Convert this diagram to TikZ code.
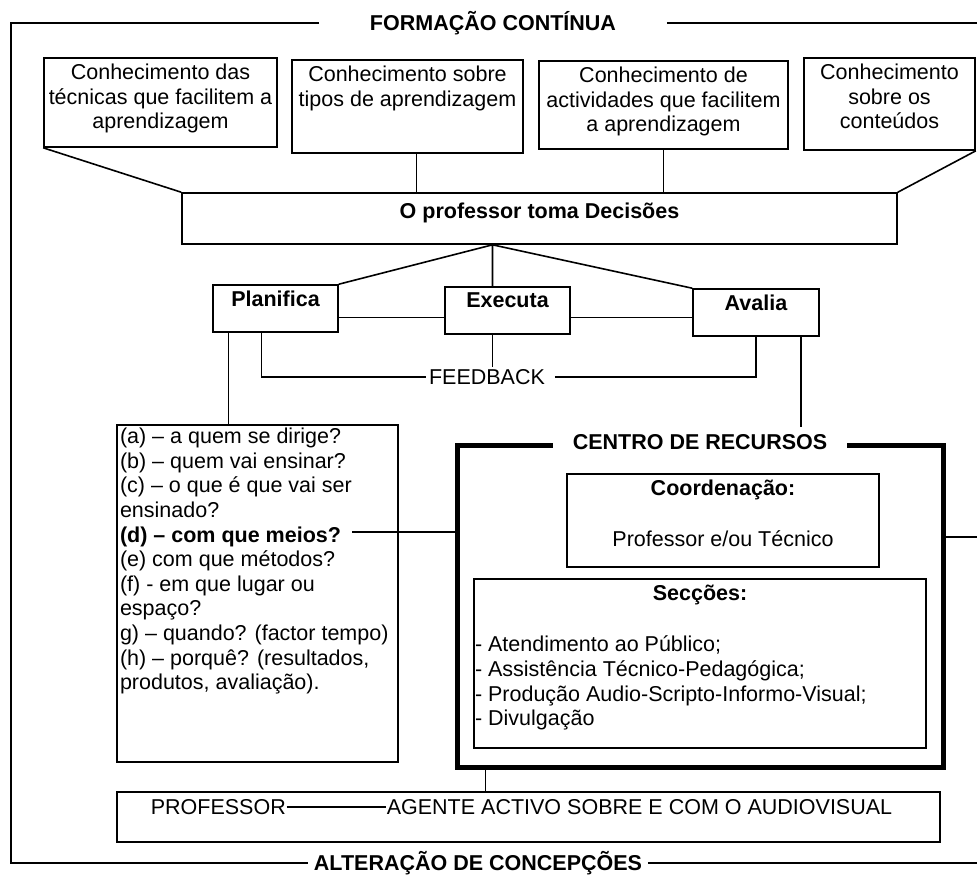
\documentclass[tikz,border=0pt]{standalone}
\usepackage{fontspec}
\setmainfont{Liberation Sans}
\usetikzlibrary{fit}
\newcommand\figsize{\fontsize{10.75}{12.3}\selectfont}
\tikzset{
  box/.style={draw,inner sep=0pt},
  boxtext/.style={anchor=north,align=center,inner sep=3pt},
  listtext/.style={anchor=north west,align=left,inner sep=1pt},
  hd/.style={font=\figsize\bfseries},
}
\begin{document}
\begin{tikzpicture}[x=0.5pt,y=-0.5pt,line width=0.8pt,every node/.style={font=\figsize}]
  \useasboundingbox (0,0) rectangle (977,875);
  % frame
  \node[hd,inner xsep=25pt] (form) at (493,23) {FORMAÇÃO CONTÍNUA};
  \node[hd,inner xsep=2.5pt] (alt) at (478,863) {ALTERAÇÃO DE CONCEPÇÕES};
  \coordinate (ftl) at (11,23);
  \coordinate (fbl) at (11,863);
  \coordinate (ftr) at (977,23);
  \coordinate (fbr) at (977,863);
  \draw (form.west) -- (ftl) -- (fbl) -- (alt.west);
  \draw (form.east) -- (ftr) (alt.east) -- (fbr);
  % knowledge
  \node[box,fit={(44,58) (277,147)},label={[boxtext]north:{Conhecimento das\\técnicas que facilitem a\\aprendizagem}}] (k1) {};
  \node[box,fit={(292,60) (523,153)},label={[boxtext]north:{Conhecimento sobre\\tipos de aprendizagem}}] (k2) {};
  \node[box,fit={(539,61) (788,149)},label={[boxtext]north:{Conhecimento de\\actividades que facilitem\\a aprendizagem}}] (k3) {};
  \node[box,fit={(804,58) (975,150)},label={[boxtext]north:{Conhecimento\\sobre os\\conteúdos}}] (k4) {};
  \node[box,fit={(182,193) (897,244)},label={[boxtext,hd,yshift=-2pt]north:{O professor toma Decisões}}] (dec) {};
  \draw (k1.south west) -- (dec.north west);
  \draw (k2.south) ++(9,0) coordinate (c2) -- (c2 |- dec.north);
  \draw (k3.south) -- (k3.south |- dec.north);
  \draw (k4.south east) -- (dec.north east);
  % decisions
  \node[box,fit={(213,285) (338,332)},label={[boxtext,hd]north:{Planifica}}] (plan) {};
  \node[box,fit={(445,287) (570,334)},label={[boxtext,hd]north:{Executa}}] (exec) {};
  \node[box,fit={(693,289) (819,336)},label={[boxtext,hd]north:{Avalia}}] (aval) {};
  \path (dec.south) ++(-47,0) coordinate (dc);
  \draw (plan.north east) -- (dc) -- (aval.north west) (dc) -- (dc |- exec.north);
  \draw (plan.east) ++(0,9) coordinate (pe) -- (pe -| exec.west);
  \draw (exec.east) ++(0,7) coordinate (ee) -- (ee -| aval.west);
  \node[inner sep=1pt] (fb) at (487,377) {FEEDBACK};
  \draw (plan.south) ++(-14,0) |- (fb.west);
  \draw (fb.east) ++(7,0) -| (aval.south);
  \draw (dc |- exec.south) -- (dc |- fb.north);
  % questions
  \node[box,fit={(117,425) (398,762)},label={[listtext,inner sep=1.5pt]north west:{(a) – a quem se dirige?\\(b) – quem vai ensinar?\\(c) – o que é que vai ser\\ensinado?\\\textbf{(d) – com que meios?}\\(e) com que métodos?\\(f) - em que lugar ou\\espaço?\\g) – quando? (factor tempo)\\(h) – porquê? (resultados,\\produtos, avaliação).}}] (quest) {};
  \draw (plan.south) ++(-47,0) coordinate (pq) -- (pq |- quest.north);
  % centre
  \node[box,line width=2.5pt,fit={(457,445) (943,767)}] (centro) {};
  \node[hd,fill=white,inner xsep=10pt] (title) at (centro.north) {CENTRO DE RECURSOS};
  \draw (aval.south) ++(45,0) coordinate (ac) -- (ac |- title.north);
  \coordinate (meios) at (352,532);
  \draw (meios) -- (meios -| centro.west);
  \coordinate (fr) at (977,537);
  \draw (centro.east |- fr) -- (fr);
  \node[box,fit={(567,474) (879,567)},label={[boxtext]north:{\textbf{Coordenação:}\\[13pt]Professor e/ou Técnico}}] (coord) {};
  \node[box,fit={(474,579) (926,748)},label={[boxtext,hd]north:{Secções:}},label={[listtext,inner sep=0.5pt,yshift=-28pt]north west:{- Atendimento ao Público;\\- Assistência Técnico-Pedagógica;\\- Produção Audio-Scripto-Informo-Visual;\\- Divulgação}}] (sec) {};
  % professor
  \node[box,fit={(117,792) (940,842)}] (prof) {};
  \draw (centro.south west) ++(31,0) coordinate (cp) -- (cp |- prof.north);
  \node[anchor=west,inner sep=0pt] (pf) at (150,807) {PROFESSOR};
  \node[anchor=west,inner sep=0pt] (ag) at (386,807) {AGENTE ACTIVO SOBRE E COM O AUDIOVISUAL};
  \draw (pf) -- (ag);
\end{tikzpicture}
\end{document}
